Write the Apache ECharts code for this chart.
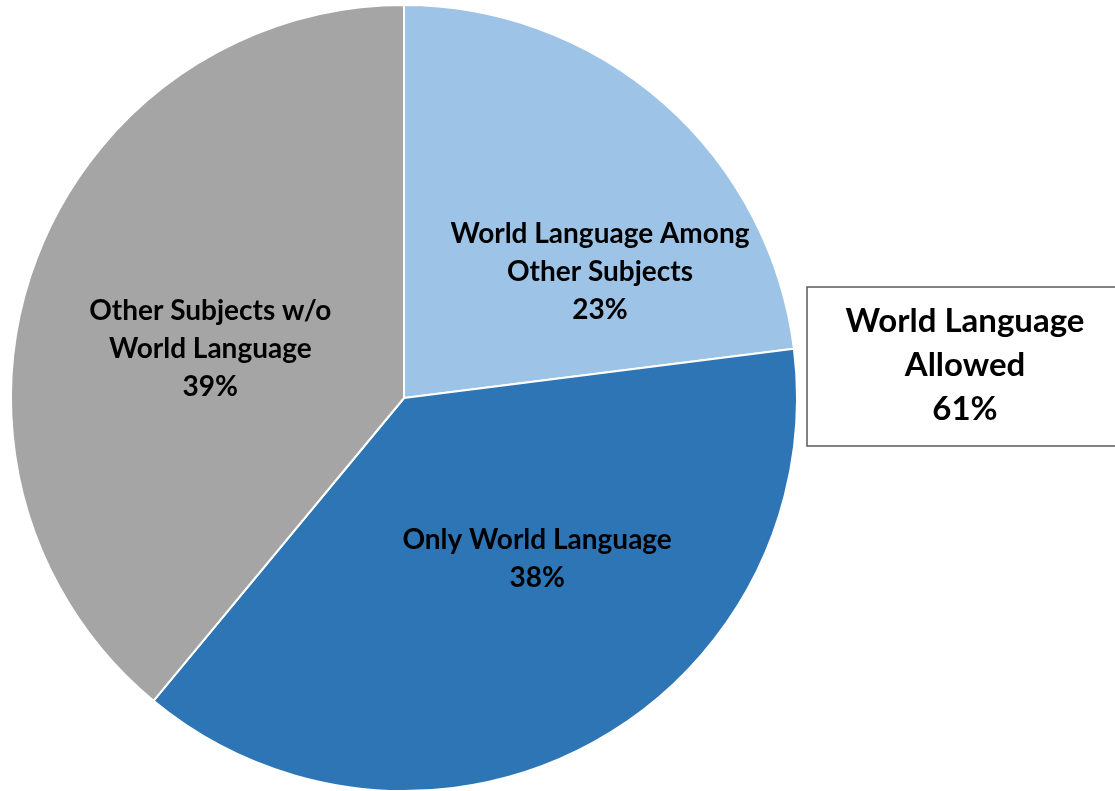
<!DOCTYPE html>
<html>
<head>
<meta charset="utf-8">
<script src="https://cdn.jsdelivr.net/npm/echarts@6/dist/echarts.min.js"></script>
<style>
html,body{margin:0;padding:0;background:#fff;}
#chart{width:1115px;height:791px;}
</style>
</head>
<body>
<div id="chart"></div>
<script>
const categories = ["World Language Among\nOther Subjects", "Only World Language", "Other Subjects w/o\nWorld Language"];
const values = [23, 38, 39];
const colors = ["#9DC3E6", "#2E75B6", "#A5A5A5"];
const boxLines = ["World Language", "Allowed", "61%"];

const labelOffsets = [[64, 24], [37, -14], [-6, 19]];

const chart = echarts.init(document.getElementById('chart'));
const data = categories.map((c, i) => ({
  name: c,
  value: values[i],
  itemStyle: { color: colors[i] },
  label: { offset: labelOffsets[i] }
}));

chart.setOption({
  animation: false,
  backgroundColor: '#fff',
  series: [{
    type: 'pie',
    center: [404, 398],
    radius: 393,
    startAngle: 90,
    clockwise: true,
    data: data,
    itemStyle: { borderColor: '#fff', borderWidth: 2 },
    label: {
      position: 'inside',
      formatter: p => p.name + '\n' + p.value + '%',
      fontFamily: 'Lato',
      fontWeight: 'bold',
      fontSize: 28,
      lineHeight: 38,
      color: '#000',
      align: 'center'
    },
    labelLine: { show: false },
    emphasis: { disabled: true }
  }],
  graphic: [{
    type: 'rect',
    shape: { x: 807, y: 287, width: 320, height: 159 },
    style: { fill: '#fff', stroke: '#595959', lineWidth: 1.5 }
  }, {
    type: 'text',
    x: 965,
    y: 365,
    style: {
      text: boxLines.join('\n'),
      fontFamily: 'Lato',
      fontWeight: 'bold',
      fontSize: 33,
      lineHeight: 44,
      fill: '#000',
      align: 'center',
      verticalAlign: 'middle'
    }
  }]
});
</script>
</body>
</html>
